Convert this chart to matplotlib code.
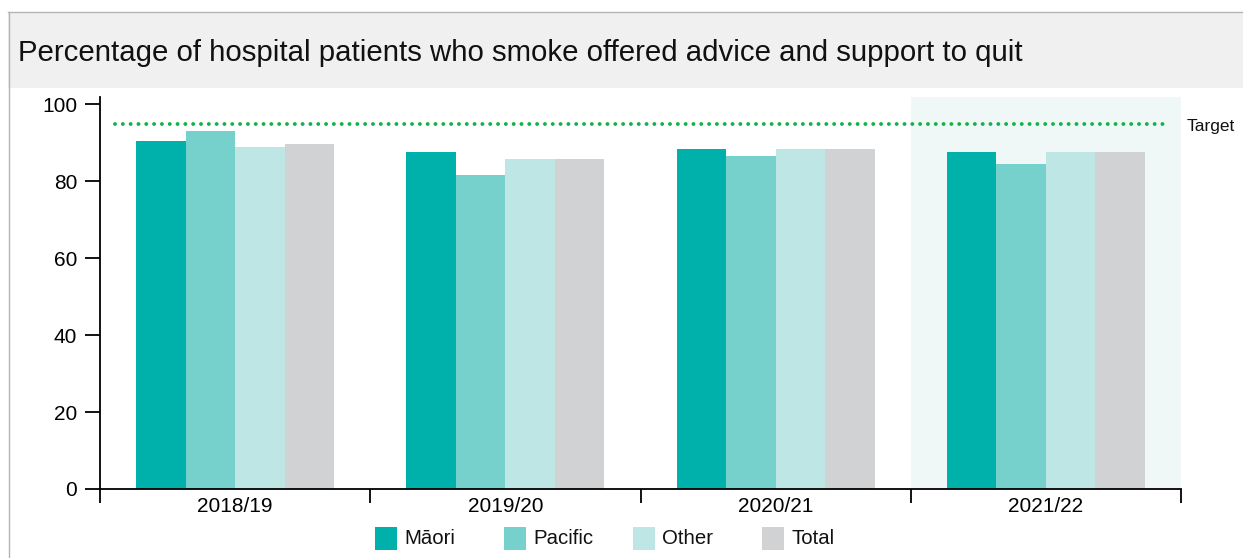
import numpy as np
import matplotlib.pyplot as plt
from matplotlib.patches import Rectangle
from matplotlib.lines import Line2D

plt.rcParams['font.family'] = ['Liberation Sans', 'DejaVu Sans']

years = ['2018/19', '2019/20', '2020/21', '2021/22']
series = ['Māori', 'Pacific', 'Other', 'Total']
maori = [90.4, 87.5, 88.3, 87.5]
pacific = [93.0, 81.6, 86.5, 84.4]
other = [88.8, 85.7, 88.3, 87.5]
total = [89.6, 85.7, 88.3, 87.5]
target = 95
colors = ['#00b0aa', '#76d1cc', '#bde6e4', '#d1d2d4']

W, H = 1243, 558
fig = plt.figure(figsize=(W / 100, H / 100), dpi=100)

# header band and frame
fig.patches.append(Rectangle((8 / W, 1 - 88 / H), 1, 76 / H, transform=fig.transFigure,
                             facecolor='#f0f0f0', edgecolor='none', zorder=0))
fig.add_artist(Line2D([8 / W, 1], [1 - 12 / H, 1 - 12 / H], transform=fig.transFigure,
                      color='#b4b4b4', lw=1))
fig.add_artist(Line2D([9 / W, 9 / W], [0, 1 - 12 / H], transform=fig.transFigure,
                      color='#b4b4b4', lw=1))
fig.text(18 / W, 1 - 53 / H, 'Percentage of hospital patients who smoke offered advice and support to quit',
         fontsize=21.2, va='center', ha='left', color='#111111')

ax = fig.add_axes([100 / W, 1 - 489 / H, 1081 / W, 392 / H])
x = np.arange(len(years))
bw = 0.183
for i, vals in enumerate([maori, pacific, other, total]):
    ax.bar(x + (i - 1.5) * bw, vals, width=bw, color=colors[i], zorder=2)

# highlight latest year
ax.axvspan(x[-1] - 0.5, x[-1] + 0.5, color='#eff8f7', zorder=0, lw=0)

ax.axhline(target, xmin=0.014, xmax=0.985, color='#12b24a', lw=2.8,
           linestyle=(0, (0.01, 2.0)), dash_capstyle='round', zorder=3)
fig.text(1187 / W, 1 - 126 / H, 'Target', fontsize=12.5, va='center', ha='left',
         color='#111111')

ax.set_xlim(-0.5, len(years) - 0.5)
ax.set_ylim(0, 101.9)
ax.set_yticks(range(0, 101, 20))
ax.set_xticks(np.arange(-0.5, len(years)), labels=[])
ax.set_xticks(x, labels=years, minor=True)
ax.tick_params(axis='x', which='major', length=10, width=1.3, direction='out')
ax.tick_params(axis='x', which='minor', length=0, pad=6, labelsize=15)
ax.tick_params(axis='y', length=10.5, width=1.3, direction='out', pad=6, labelsize=15)
for s in ['top', 'right']:
    ax.spines[s].set_visible(False)
for s in ['left', 'bottom']:
    ax.spines[s].set_linewidth(1.3)
ax.patch.set_alpha(0)

# legend with evenly spaced entries
for i, name in enumerate(series):
    px = 375 + 129 * i
    fig.patches.append(Rectangle((px / W, 1 - 550 / H), 22 / W, 23 / H,
                                 transform=fig.transFigure, facecolor=colors[i],
                                 edgecolor='none'))
    fig.text((px + 29) / W, 1 - 539 / H, name, fontsize=14.7, va='center', ha='left',
             color='#111111')

fig.savefig('out.png', dpi=100)
